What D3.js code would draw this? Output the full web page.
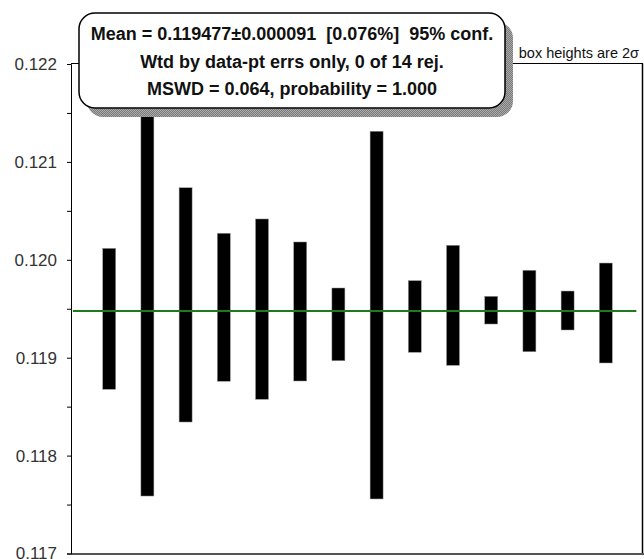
<!DOCTYPE html>
<html>
<head>
<meta charset="utf-8">
<script src="https://cdn.jsdelivr.net/npm/d3@7"></script>
<style>
  html, body { margin: 0; padding: 0; background: #fff; }
  svg { display: block; }
  text { font-family: Arial, "Liberation Sans", sans-serif; }
</style>
</head>
<body>
<svg id="chart" width="644" height="559"></svg>
<script>
// ---- data ----
const points = [1, 2, 3, 4, 5, 6, 7, 8, 9, 10, 11, 12, 13, 14];
const lower = [0.118677, 0.117587, 0.118343, 0.118759, 0.118575, 0.118762, 0.118969,
               0.117557, 0.119055, 0.118922, 0.119344, 0.119061, 0.119283, 0.118946];
const upper = [0.120117, 0.121550, 0.120736, 0.120271, 0.120417, 0.120182, 0.119712,
               0.121313, 0.119787, 0.120148, 0.119627, 0.119893, 0.119681, 0.119967];
const meanValue = 0.119477;
const majorTicks = [0.117, 0.118, 0.119, 0.120, 0.121, 0.122];
const minorTicks = [0.1175, 0.1185, 0.1195, 0.1205, 0.1215];
const boxLines = [
  "Mean = 0.119477\u00B10.000091  [0.076%]  95% conf.",
  "Wtd by data-pt errs only, 0 of 14 rej.",
  "MSWD = 0.064, probability = 1.000"
];
const noteText = "box heights are 2\u03C3";

// ---- layout ----
const svg = d3.select("#chart");
const frameL = 71, frameR = 643, frameT = 63.5, frameB = 553.5;

const x = d3.scaleLinear().domain([0, 15]).range([frameL, 644]);
const y = d3.scaleLinear().domain([0.117, 0.122]).range([frameB, 64]);

// frame
svg.append("line").attr("x1", frameL).attr("x2", frameR).attr("y1", frameT).attr("y2", frameT)
  .attr("stroke", "#000").attr("stroke-width", 1);
svg.append("line").attr("x1", frameR - 0.5).attr("x2", frameR - 0.5).attr("y1", frameT).attr("y2", frameB)
  .attr("stroke", "#000").attr("stroke-width", 1.5);
svg.append("line").attr("x1", frameL).attr("x2", 644).attr("y1", frameB + 0.5).attr("y2", frameB + 0.5)
  .attr("stroke", "#555").attr("stroke-width", 2);

// y axis
const yAxis = d3.axisLeft(y).tickValues(majorTicks).tickFormat(d3.format(".3f")).tickSize(4).tickPadding(10);
const gy = svg.append("g").attr("transform", `translate(${frameL},0)`).call(yAxis);
gy.select(".domain").attr("stroke", "#000");
gy.selectAll(".tick line").attr("stroke", "#000");
gy.selectAll(".tick text").attr("font-size", 17).attr("fill", "#333")
  .attr("font-family", "Arial, 'Liberation Sans', sans-serif");
const gyMinor = svg.append("g").attr("transform", `translate(${frameL},0)`)
  .call(d3.axisLeft(y).tickValues(minorTicks).tickFormat("").tickSize(4));
gyMinor.select(".domain").remove();
gyMinor.selectAll(".tick line").attr("stroke", "#000");

// bars
const halfW = 0.17;
svg.append("g").selectAll("rect").data(points).join("rect")
  .attr("x", (d) => x(d - halfW))
  .attr("width", (d) => x(d + halfW) - x(d - halfW))
  .attr("y", (d, i) => y(upper[i]))
  .attr("height", (d, i) => y(lower[i]) - y(upper[i]))
  .attr("fill", "#000")
  .attr("stroke", "#999").attr("stroke-width", 0.5);

// mean line
svg.append("line")
  .attr("x1", x(0.05)).attr("x2", x(14.8))
  .attr("y1", y(meanValue)).attr("y2", y(meanValue))
  .attr("stroke", "#1f7a1f").attr("stroke-width", 2);

// note
svg.append("text").attr("x", 639).attr("y", 58).attr("text-anchor", "end")
  .attr("font-size", 14.5).attr("fill", "#111").text(noteText);

// info box with shadow
const defs = svg.append("defs");
const pat = defs.append("pattern").attr("id", "shade").attr("width", 2).attr("height", 2)
  .attr("patternUnits", "userSpaceOnUse");
pat.append("rect").attr("width", 2).attr("height", 2).attr("fill", "#7a7a7a");
pat.append("rect").attr("width", 1).attr("height", 1).attr("fill", "#aaaaaa");
pat.append("rect").attr("x", 1).attr("y", 1).attr("width", 1).attr("height", 1).attr("fill", "#aaaaaa");

const bx = 79, by = 13, bw = 426, bh = 95, r = 16;
svg.append("rect").attr("x", bx + 8).attr("y", by + 9).attr("width", bw).attr("height", bh)
  .attr("rx", r).attr("ry", r).attr("fill", "url(#shade)");
svg.append("rect").attr("x", bx).attr("y", by).attr("width", bw).attr("height", bh)
  .attr("rx", r).attr("ry", r).attr("fill", "#fff").attr("stroke", "#000").attr("stroke-width", 1.5);

const lineY = [39.5, 67.5, 94.5];
svg.append("g").selectAll("text").data(boxLines).join("text")
  .attr("x", bx + bw / 2)
  .attr("y", (d, i) => lineY[i])
  .attr("text-anchor", "middle")
  .attr("font-size", 18).attr("font-weight", "bold").attr("fill", "#111")
  .style("white-space", "pre")
  .text((d) => d);
</script>
</body>
</html>
